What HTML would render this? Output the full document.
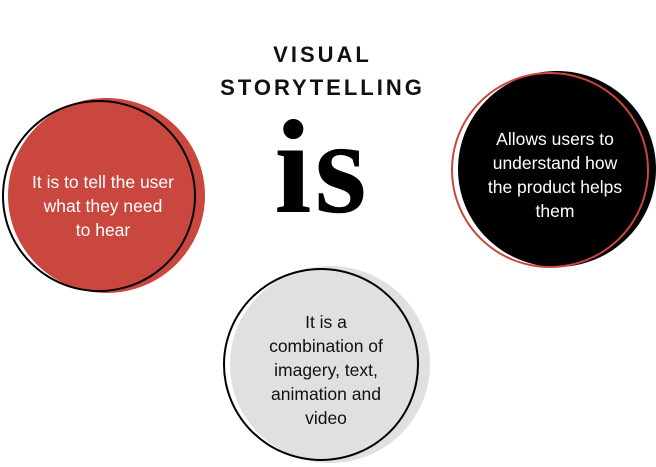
<!DOCTYPE html>
<html><head><style>
html,body{margin:0;padding:0;background:#fff;}
body{width:656px;height:467px;position:relative;overflow:hidden;font-family:"Liberation Sans",sans-serif;}
.c{position:absolute;border-radius:50%;box-sizing:border-box;}
.t{position:absolute;text-align:center;font-size:17.5px;line-height:24px;}
.h{position:absolute;left:200px;width:245px;text-align:center;font-size:22px;font-weight:bold;letter-spacing:3px;color:#111;}
</style></head><body>
<div class="c" style="left:8px;top:98px;width:197px;height:195px;background:#c9473f"></div>
<div class="c" style="left:2px;top:100px;width:194px;height:192px;border:2px solid #000"></div>
<div class="t" style="left:3px;width:200px;top:170px;color:#fff">It is to tell the user<br>what they need<br>to hear</div>

<div class="c" style="left:458px;top:71px;width:198px;height:196px;background:#000"></div>
<div class="c" style="left:451px;top:72px;width:198px;height:196px;border:2px solid #c9473f"></div>
<div class="t" style="left:455px;width:200px;top:127px;color:#fff">Allows users to<br>understand how<br>the product helps<br>them</div>

<div class="c" style="left:230px;top:266px;width:200px;height:197px;background:#e0e0e0"></div>
<div class="c" style="left:223px;top:268px;width:196px;height:193px;border:2px solid #000"></div>
<div class="t" style="left:226px;width:200px;top:310px;color:#111">It is a<br>combination of<br>imagery, text,<br>animation and<br>video</div>

<div class="h" style="top:42px">VISUAL</div>
<div class="h" style="top:75px">STORYTELLING</div>
<div style="position:absolute;left:264px;top:100px;width:116px;text-align:center;font-family:'Liberation Serif',serif;font-weight:bold;font-size:134px;line-height:134px;color:#000;letter-spacing:3px">is</div>
</body></html>
